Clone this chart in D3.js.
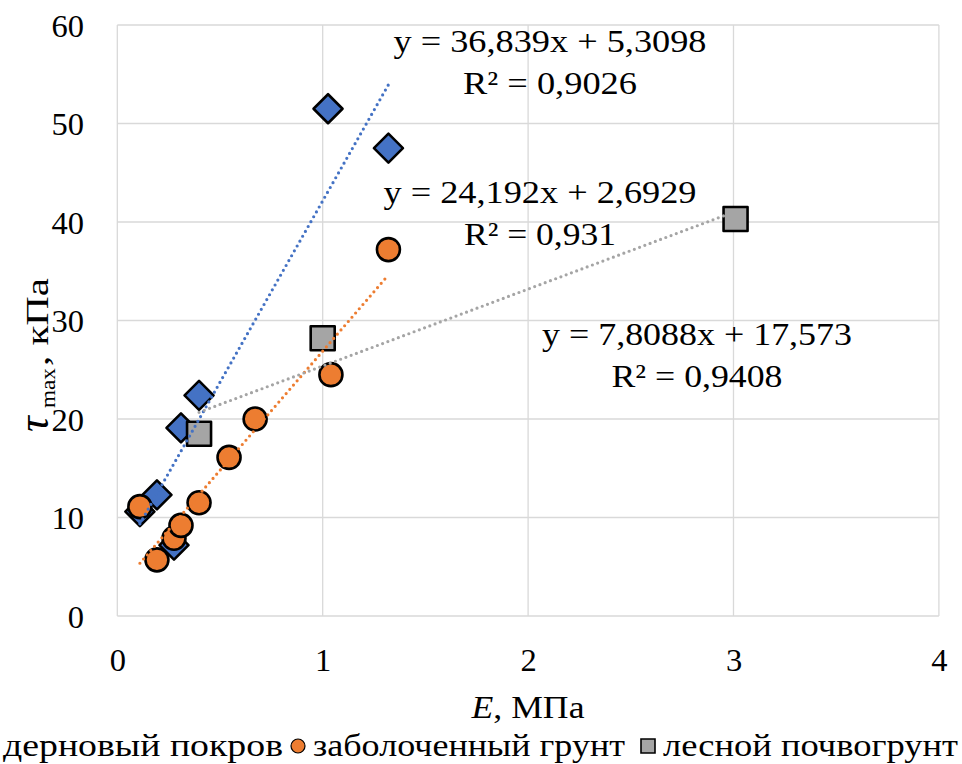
<!DOCTYPE html>
<html><head><meta charset="utf-8">
<script src="https://cdn.jsdelivr.net/npm/d3@7"></script>
<style>body{margin:0;background:#fff}svg{display:block}</style>
</head><body><svg id="c" width="962" height="764"></svg>
<script>
// Data
const seriesNames = ["дерновый покров", "заболоченный грунт", "лесной почвогрунт"];
const seriesColors = ["#4472C4", "#ED7D31", "#A5A5A5"];
const sodX = [0.11, 0.193, 0.276, 0.31, 0.398, 1.026, 1.32];
const sodY = [10.6, 12.3, 7.2, 19.1, 22.4, 51.5, 47.5];
const bogX = [0.11, 0.193, 0.276, 0.31, 0.398, 0.544, 0.671, 1.04, 1.32];
const bogY = [11.1, 5.7, 7.9, 9.2, 11.5, 16.1, 20.0, 24.5, 37.2];
const forX = [0.398, 1.0, 3.01];
const forY = [18.5, 28.2, 40.3];
const slopes = [36.839, 24.192, 7.8088];
const intercepts = [5.3098, 2.6929, 17.573];
const eqLabels = ["y = 36,839x + 5,3098", "y = 24,192x + 2,6929", "y = 7,8088x + 17,573"];
const r2Labels = ["R² = 0,9026", "R² = 0,931", "R² = 0,9408"];
const xTicks = [0, 1, 2, 3, 4];
const yTicks = [0, 10, 20, 30, 40, 50, 60];

const FONT = "Liberation Serif";
const svg = d3.select("#c").style("font-family", FONT);
const x = d3.scaleLinear().domain([0, 4]).range([117.3, 938.9]);
const y = d3.scaleLinear().domain([0, 60]).range([616, 25]);

// grid
const grid = svg.append("g");
grid.selectAll("line.v").data(xTicks).join("line")
  .attr("x1", d => x(d)).attr("x2", d => x(d)).attr("y1", y(0)).attr("y2", y(60))
  .attr("stroke", "#d9d9d9").attr("stroke-width", 1.3);
grid.selectAll("line.h").data(yTicks).join("line")
  .attr("x1", x(0)).attr("x2", x(4)).attr("y1", d => y(d)).attr("y2", d => y(d))
  .attr("stroke", "#d9d9d9").attr("stroke-width", 1.3);

// axes
const fs = 32.5;
function styleText(sel, size) { return sel.style("font-family", FONT).style("font-size", (size || fs) + "px").style("fill", "#000"); }
const xAxis = svg.append("g").attr("transform", `translate(0,${y(0)})`)
  .call(d3.axisBottom(x).tickValues(xTicks).tickSize(0).tickPadding(0).tickFormat(d3.format("d")));
xAxis.select(".domain").remove();
styleText(xAxis.selectAll("text").attr("dy", null).attr("y", 55));
const yAxis = svg.append("g").attr("transform", `translate(84,0)`)
  .call(d3.axisLeft(y).tickValues(yTicks).tickSize(0).tickPadding(0).tickFormat(d3.format("d")));
yAxis.select(".domain").remove();
styleText(yAxis.selectAll("text").attr("x", 0).attr("dy", "0.34em"));

// markers
const series = [
  {xs: sodX, ys: sodY, shape: "diamond", size: 14.5},
  {xs: bogX, ys: bogY, shape: "circle", size: 11.5},
  {xs: forX, ys: forY, shape: "square", size: 12}
];
function markerPath(shape, r) {
  if (shape === "diamond") return `M0,${-r}L${r},0L0,${r}L${-r},0Z`;
  if (shape === "circle") return d3.symbol(d3.symbolCircle, Math.PI * r * r)();
  return `M${-r},${-r}H${r}V${r}H${-r}Z`;
}
series.forEach((s, i) => {
  const pts = s.xs.map((v, k) => [v, s.ys[k]]);
  svg.append("g").selectAll("path").data(pts).join("path")
    .attr("d", markerPath(s.shape, s.size))
    .attr("transform", d => `translate(${x(d[0])},${y(d[1])})`)
    .attr("fill", seriesColors[i]).attr("stroke", "#000").attr("stroke-width", 2.6)
    .attr("stroke-linejoin", "round");
});

// trendlines
series.forEach((s, i) => {
  const x0 = d3.min(s.xs), x1 = d3.max(s.xs);
  svg.append("line")
    .attr("x1", x(x0)).attr("y1", y(slopes[i] * x0 + intercepts[i]))
    .attr("x2", x(x1)).attr("y2", y(slopes[i] * x1 + intercepts[i]))
    .attr("stroke", seriesColors[i]).attr("stroke-width", 3.2)
    .attr("stroke-linecap", "round").attr("stroke-dasharray", "0 5.6");
});

// equation labels
const eqPos = [[550, 52], [540, 203], [697, 345]];
const eqW = [313, 313, 310];
const r2W = [174, 152, 171];
eqLabels.forEach((t, i) => {
  const g = svg.append("g").attr("text-anchor", "middle");
  styleText(g.append("text").attr("x", eqPos[i][0]).attr("y", eqPos[i][1])
    .attr("textLength", eqW[i]).attr("lengthAdjust", "spacingAndGlyphs").text(t));
  styleText(g.append("text").attr("x", eqPos[i][0]).attr("y", eqPos[i][1] + 42)
    .attr("textLength", r2W[i]).attr("lengthAdjust", "spacingAndGlyphs").text(r2Labels[i]));
});

// axis titles
const xt = styleText(svg.append("text").attr("x", 528).attr("y", 718).attr("text-anchor", "middle")
  .attr("textLength", 113).attr("lengthAdjust", "spacingAndGlyphs"));
xt.append("tspan").style("font-style", "italic").text("E");
xt.append("tspan").text(", МПа");
// y title: pieces placed along the rotated baseline (rotated coords: x increases upward)
const yg = svg.append("g").attr("transform", "translate(48,0) rotate(-90)");
styleText(yg.append("text").attr("x", -432).attr("y", 0).style("font-style", "italic").text("τ"), 44);
styleText(yg.append("text").attr("x", -408).attr("y", 7)
  .attr("textLength", 40).attr("lengthAdjust", "spacingAndGlyphs").text("max"), 22);
styleText(yg.append("text").attr("x", -366).attr("y", 0)
  .attr("textLength", 88).attr("lengthAdjust", "spacingAndGlyphs").text(", кПа"), 32);

// legend
const legX = [3, 313, 663];
const legW = [280, 312, 295];
const legMarkX = [-12, 298, 648];
const legY = 756;
seriesNames.forEach((n, i) => {
  svg.append("path").attr("d", markerPath(series[i].shape, i === 0 ? 9 : 7))
    .attr("transform", `translate(${legMarkX[i]},${legY - 10})`)
    .attr("fill", seriesColors[i]).attr("stroke", "#000").attr("stroke-width", i === 2 ? 1.6 : 1.2);
  styleText(svg.append("text").attr("x", legX[i]).attr("y", legY)
    .attr("textLength", legW[i]).attr("lengthAdjust", "spacingAndGlyphs").text(n));
});
</script></body></html>
